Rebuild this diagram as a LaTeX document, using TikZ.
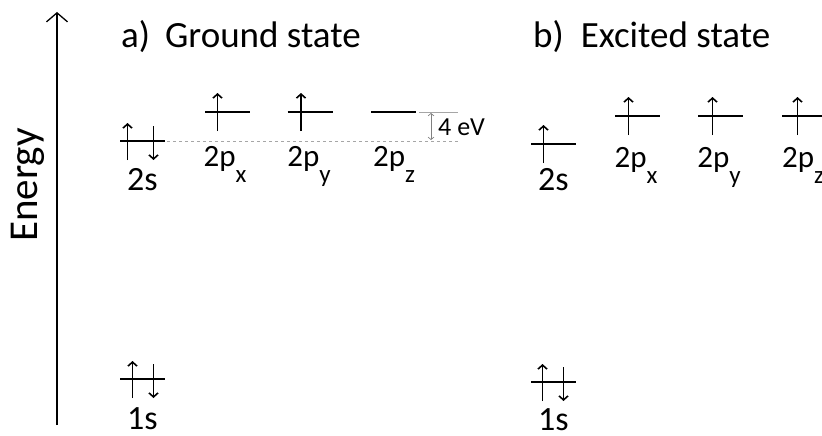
\documentclass[tikz,border=0pt]{standalone}
\usepackage{fontspec}
\setmainfont{Carlito}
\usetikzlibrary{arrows.meta}
\newcommand{\orbsub}[1]{\raisebox{-16pt}{\fontsize{25}{25}\selectfont #1}}

\tikzset{
  level/.style={line width=1.8pt},
  spin/.style={line width=1.6pt,-{Straight Barb[length=4pt,width=9pt]}},
  orb/.style={font=\fontsize{34}{34}\selectfont,anchor=base,inner sep=0pt},
  orbp/.style={font=\fontsize{31}{31}\selectfont,anchor=base,inner sep=0pt},
  title/.style={font=\fontsize{37}{37}\selectfont,anchor=base west,inner sep=0pt},
}

\begin{document}
\begin{tikzpicture}[x=1pt,y=-1pt]
    \useasboundingbox (0,0) rectangle (822,436);
    \clip (0,0) rectangle (822,436);

    % energy axis
    \coordinate (e0) at (57,425);
    \coordinate (e1) at (57,12);
    \draw[line width=1.3pt,-{Straight Barb[length=9pt,width=21pt]}] (e0) -- (e1);
    \node[rotate=90,font=\fontsize{41}{41}\selectfont] (energy) at (28,185) {Energy};

    % ground state levels
    \coordinate (g1s)  at (142.5,379);
    \coordinate (g2s)  at (142.5,141);
    \coordinate (g2px) at (227.5,112);
    \coordinate (g2py) at (310,112);
    \coordinate (g2pz) at (393.5,112);

    % excited state levels
    \coordinate (x1s)  at (553.5,382);
    \coordinate (x2s)  at (553.5,144);
    \coordinate (x2px) at (637.5,116);
    \coordinate (x2py) at (720.5,116);
    \coordinate (x2pz) at (804.5,116);

    \node[title] (ta) at (121,48) {a)\hspace{15pt}Ground state};
    \node[title] (tb) at (533,48) {b)\hspace{17pt}Excited state};

    % 4 eV gap
    \coordinate (d0) at (167,141);
    \coordinate (d1) at (458,141);
    \coordinate (d2) at (419,112);
    \coordinate (d3) at (458,112);
    \draw[gray!70,dashed,line width=1pt] (d0) -- (d1);
    \draw[gray!70,line width=1pt] (d2) -- (d3);
    \draw[gray,line width=0.7pt,{Straight Barb[length=2.5pt,width=6pt]}-{Straight Barb[length=2.5pt,width=6pt]}]
        (431,113) -- (431,140);
    \node[anchor=west,inner sep=0pt,font=\fontsize{26}{26}\selectfont] (gap) at (438,127) {4 eV};

    \foreach \c in {g1s,g2s,g2px,g2py,g2pz,x1s,x2s,x2px,x2py,x2pz} {
        \draw[level] ([xshift=-22.5pt]\c) -- ([xshift=22.5pt]\c);
    }

    % single electrons
    \foreach \c/\dx in {g2px/-10,g2py/-9,x2s/-10,x2px/-9,x2py/-8,x2pz/-7} {
        \draw[spin] ([shift={(\dx,19)}]\c) -- ++(0,-38);
    }
    % electron pairs
    \foreach \c/\du/\dd in {g2s/-15/11,g1s/-10/11,x1s/-11/10} {
        \draw[spin] ([shift={(\du,19)}]\c) -- ++(0,-37);
        \draw[spin] ([shift={(\dd,-15)}]\c) -- ++(0,34);
    }

    % labels
    \node[orb] (lg1s)  at (142.5,429) {1s};
    \node[orb] (lg2s)  at (142.5,190) {2s};
    \node[orbp] (lg2px) at (225,166) {2p\orbsub{x}};
    \node[orbp] (lg2py) at (309,166) {2p\orbsub{y}};
    \node[orbp] (lg2pz) at (394,166) {2p\orbsub{z}};
    \node[orb] (lx1s)  at (553.5,430) {1s};
    \node[orb] (lx2s)  at (553.5,190) {2s};
    \node[orbp] (lx2px) at (636,167) {2p\orbsub{x}};
    \node[orbp] (lx2py) at (719,167) {2p\orbsub{y}};
    \node[orbp] (lx2pz) at (803,167) {2p\orbsub{z}};
\end{tikzpicture}
\end{document}
